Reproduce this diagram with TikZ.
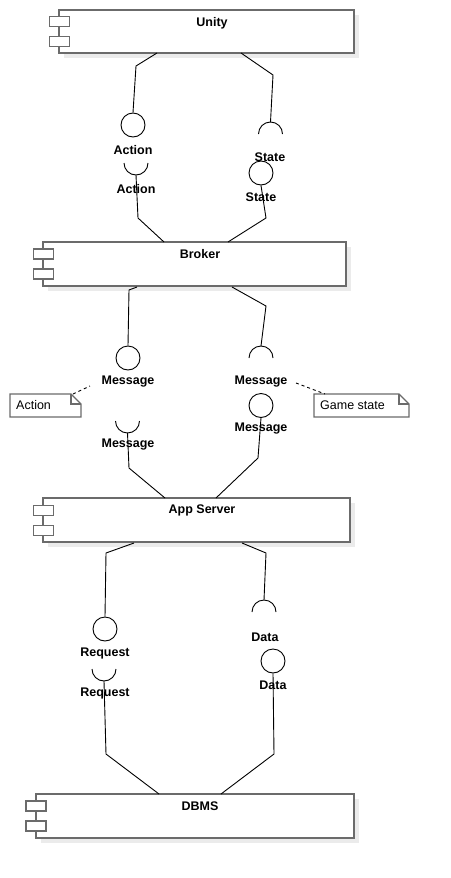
\documentclass[tikz,border=0pt]{standalone}
\usepackage{fontspec}
\setmainfont{Liberation Sans}
\usetikzlibrary{shadows}
\definecolor{bordergray}{RGB}{107,107,107}
\begin{document}
\begin{tikzpicture}[x=1pt,y=-1pt,
  compbox/.style={draw=bordergray, line width=1.6pt, fill=white, inner sep=0pt,
    drop shadow={shadow xshift=5pt, shadow yshift=-5pt, fill=black!8, opacity=1}},
  smallrect/.style={draw=bordergray, line width=1.5pt, fill=white, inner sep=0pt,
    minimum width=20pt, minimum height=10pt},
  title/.style={font=\bfseries\fontsize{12.5}{15}\selectfont, inner sep=0pt},
  lbl/.style={font=\bfseries\fontsize{12.5}{15}\selectfont, inner sep=0pt},
  notetext/.style={font=\fontsize{12.5}{15}\selectfont, inner sep=0pt, anchor=west},
  ball/.style={circle, draw, line width=0.9pt, minimum size=24pt, inner sep=0pt},
  conn/.style={draw, line width=0.9pt},
  noteline/.style={draw=bordergray, line width=1.4pt, fill=white},
  dashconn/.style={draw, line width=0.9pt, dashed, dash pattern=on 3pt off 3pt}
]
\useasboundingbox (0,0) rectangle (450,878);
\fill[white] (0,0) rectangle (450,878);

% ---------- component boxes ----------
\node[compbox, minimum width=295pt, minimum height=43pt] (unity) at (206.5,31.5) {};
\node[smallrect] (unityp1) at (59.5,21.5) {};
\node[smallrect] (unityp2) at (59.5,41.5) {};
\node[title] (unityt) at (212,23) {Unity};

\node[compbox, minimum width=303pt, minimum height=44pt] (broker) at (194.5,264) {};
\node[smallrect] (brokerp1) at (43.5,254) {};
\node[smallrect] (brokerp2) at (43.5,274) {};
\node[title] (brokert) at (200,254) {Broker};

\node[compbox, minimum width=307pt, minimum height=44pt] (app) at (196.5,520) {};
\node[smallrect] (appp1) at (43.5,510.5) {};
\node[smallrect] (appp2) at (43.5,530.5) {};
\node[title] (appt) at (202,510) {App Server};

\node[compbox, minimum width=318pt, minimum height=44pt] (dbms) at (195,816) {};
\node[smallrect] (dbmsp1) at (36,806) {};
\node[smallrect] (dbmsp2) at (36,826) {};
\node[title] (dbmst) at (200,806) {DBMS};

% ---------- Unity <-> Broker : Action ----------
\coordinate (uA) at (157,53);
\coordinate (uAb) at (136,66);
\node[ball] (actBall) at (133,125) {};
\node[lbl] (actL1) at (133,150) {Action};
\coordinate (actSock) at (136,163);
\node[lbl] (actL2) at (136,189) {Action};
\coordinate (bA) at (164,242);
\draw[conn] (uA) -- (uAb) -- (actBall.north);
\draw[conn] ([xshift=-12pt]actSock) arc[start angle=180, end angle=360, radius=12pt];
\draw[conn] ([yshift=-12pt]actSock) -- (138,218) -- (bA);

% ---------- Unity <-> Broker : State ----------
\coordinate (uS) at (241,53);
\coordinate (stSock) at (270.5,134);
\node[lbl] (stL1) at (270,157) {State};
\node[ball] (stBall) at (261,173) {};
\node[lbl] (stL2) at (261,197) {State};
\coordinate (bS) at (228,242);
\draw[conn] (uS) -- (273,75) -- ([yshift=12pt]stSock);
\draw[conn] ([xshift=-12pt]stSock) arc[start angle=180, end angle=0, radius=12pt];
\draw[conn] (stBall.south) -- (266,218) -- (bS);

% ---------- Broker <-> App Server : Message (left) ----------
\coordinate (bM1) at (137,287);
\node[ball] (m1Ball) at (128,358) {};
\node[lbl] (m1L1) at (128,382) {Message};
\coordinate (m1Sock) at (127.5,421);
\node[lbl] (m1L2) at (128,445) {Message};
\coordinate (aM1) at (165,498);
\draw[conn] (bM1) -- (129,290) -- (m1Ball.north);
\draw[conn] ([xshift=-12pt]m1Sock) arc[start angle=180, end angle=360, radius=12pt];
\draw[conn] ([yshift=-12pt]m1Sock) -- (129,468) -- (aM1);

% note Action
\coordinate (noteAc) at (73,394);
\draw[noteline] (10,394) -- (71,394) -- (81,404) -- (81,417) -- (10,417) -- cycle;
\draw[draw=bordergray, line width=1.2pt] (71,394) -- (71,404) -- (81,404);
\node[notetext] (noteA) at (16,405) {Action};
\draw[dashconn] (noteAc) -- (90,386);

% ---------- Broker <-> App Server : Message (right) ----------
\coordinate (bM2) at (232,287);
\coordinate (m2Sock) at (261,358);
\node[lbl] (m2L1) at (261,382) {Message};
\node[ball] (m2Ball) at (261,405.5) {};
\node[lbl] (m2L2) at (261,429) {Message};
\coordinate (aM2) at (216,498);
\draw[conn] (bM2) -- (266,306) -- ([yshift=12pt]m2Sock);
\draw[conn] ([xshift=-12pt]m2Sock) arc[start angle=180, end angle=0, radius=12pt];
\draw[conn] (m2Ball.south) -- (258,458) -- (aM2);

% note Game state
\coordinate (noteGc) at (325,394);
\draw[noteline] (314,394) -- (399,394) -- (409,404) -- (409,417) -- (314,417) -- cycle;
\draw[draw=bordergray, line width=1.2pt] (399,394) -- (399,404) -- (409,404);
\node[notetext] (noteG) at (320,405) {Game state};
\draw[dashconn] (296,383) -- (noteGc);

% ---------- App Server <-> DBMS : Request ----------
\coordinate (aR) at (134,543);
\node[ball] (rqBall) at (105,629) {};
\node[lbl] (rqL1) at (105,653) {Request};
\coordinate (rqSock) at (104,669);
\node[lbl] (rqL2) at (105,693) {Request};
\coordinate (dR) at (159,794);
\draw[conn] (aR) -- (106,553) -- (rqBall.north);
\draw[conn] ([xshift=-12pt]rqSock) arc[start angle=180, end angle=360, radius=12pt];
\draw[conn] ([yshift=-12pt]rqSock) -- (106,754) -- (dR);

% ---------- App Server <-> DBMS : Data ----------
\coordinate (aD) at (242,543);
\coordinate (dtSock) at (264,612);
\node[lbl] (dtL1) at (265,637) {Data};
\node[ball] (dtBall) at (273,661) {};
\node[lbl] (dtL2) at (273,685) {Data};
\coordinate (dD) at (221,794);
\draw[conn] (aD) -- (266,553) -- ([yshift=12pt]dtSock);
\draw[conn] ([xshift=-12pt]dtSock) arc[start angle=180, end angle=0, radius=12pt];
\draw[conn] (dtBall.south) -- (274,754) -- (dD);
\end{tikzpicture}
\end{document}
